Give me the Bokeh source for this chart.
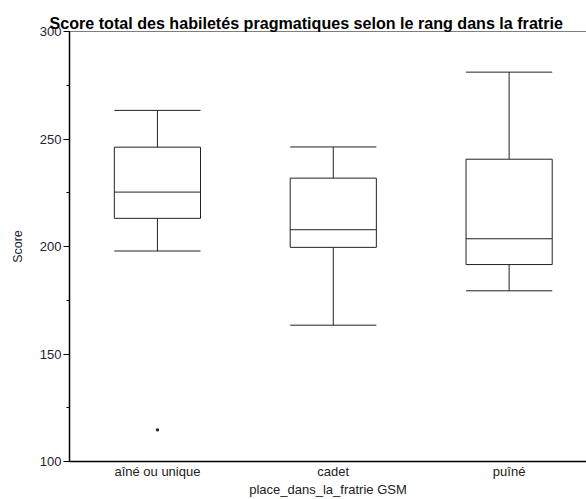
from bokeh.plotting import figure
from bokeh.models import Range1d, FixedTicker, SingleIntervalTicker, Span
from bokeh.embed import file_html
from bokeh.resources import INLINE

categories = ["aîné ou unique", "cadet", "puîné"]
whisker_high = [263.3, 246.3, 281.1]
q3 = [246.2, 231.8, 240.6]
median = [225.3, 207.8, 203.6]
q1 = [213.1, 199.6, 191.6]
whisker_low = [197.9, 163.4, 179.4]
outlier_cat = ["aîné ou unique"]
outlier_val = [114.7]

FONT = "Liberation Sans"
xs = list(range(len(categories)))
bw = 0.49
x0 = [x - bw / 2 for x in xs]
x1 = [x + bw / 2 for x in xs]

p = figure(width=586, height=499, output_backend="svg", toolbar_location=None,
           x_range=Range1d(-0.5, 2.44), y_range=Range1d(100, 300),
           min_border_left=69, min_border_right=0, min_border_top=31,
           min_border_bottom=37)
p.background_fill_color = "white"
p.border_fill_color = "white"
p.outline_line_color = None
p.xgrid.visible = False
p.ygrid.visible = False

p.title.text = "Score total des habiletés pragmatiques selon le rang dans la fratrie"
p.title.text_font = FONT
p.title.text_font_size = "16.1px"
p.title.text_font_style = "bold"
p.title.text_color = "black"
p.title.align = "left"
p.title.offset = -20
p.title.standoff = 0

# boxes
p.quad(left=x0, right=x1, top=q3, bottom=q1, fill_color="white",
       line_color="#222222", line_width=1)
p.segment(x0=x0, y0=median, x1=x1, y1=median, line_color="#222222", line_width=1)
p.segment(x0=xs, y0=q3, x1=xs, y1=whisker_high, line_color="#222222", line_width=1)
p.segment(x0=xs, y0=q1, x1=xs, y1=whisker_low, line_color="#222222", line_width=1)
p.segment(x0=x0, y0=whisker_high, x1=x1, y1=whisker_high, line_color="#222222", line_width=1)
p.segment(x0=x0, y0=whisker_low, x1=x1, y1=whisker_low, line_color="#222222", line_width=1)
p.scatter(x=[categories.index(c) for c in outlier_cat], y=outlier_val,
          marker="square", size=2, color="#222222")

p.add_layout(Span(location=300, dimension="width", line_color="black", line_width=1.2))

# axes
xa = p.xaxis[0]
xa.ticker = FixedTicker(ticks=xs)
xa.major_label_overrides = {i: c for i, c in zip(xs, categories)}
xa.major_tick_out = 0
xa.major_tick_in = 0
xa.minor_tick_out = 0
xa.minor_tick_in = 0
xa.axis_line_width = 1.5
xa.axis_line_color = "black"
xa.major_label_text_font = FONT
xa.major_label_text_font_size = "13px"
xa.major_label_text_color = "#222222"
xa.major_label_standoff = 2
xa.axis_label = "place_dans_la_fratrie GSM"
xa.axis_label_text_font = FONT
xa.axis_label_text_font_size = "13px"
xa.axis_label_text_font_style = "normal"
xa.axis_label_text_color = "#222222"
xa.axis_label_standoff = 0

ya = p.yaxis[0]
ya.ticker = SingleIntervalTicker(interval=50, num_minor_ticks=2)
ya.major_tick_out = 6
ya.major_tick_in = 0
ya.minor_tick_out = 3
ya.minor_tick_in = 0
ya.axis_line_width = 1.5
ya.axis_line_color = "black"
ya.major_label_text_font = FONT
ya.major_label_text_font_size = "13px"
ya.major_label_text_color = "#222233"
ya.major_label_standoff = 2
ya.axis_label = "Score"
ya.axis_label_text_font = FONT
ya.axis_label_text_font_size = "12.5px"
ya.axis_label_text_font_style = "normal"
ya.axis_label_text_color = "#222233"
ya.axis_label_standoff = 12

open("out.html", "w").write(file_html(p, INLINE))
